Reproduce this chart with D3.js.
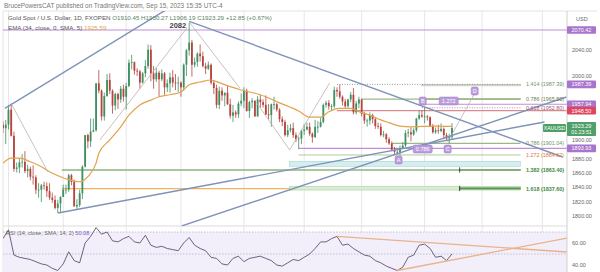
<!DOCTYPE html>
<html>
<head>
<meta charset="utf-8">
<script src="https://cdn.jsdelivr.net/npm/d3@7"></script>
<style>
  html, body { margin: 0; padding: 0; background: #fff; }
  svg { display: block; font-family: "Liberation Sans", Arial, sans-serif; }
</style>
</head>
<body>
<svg id="chart" width="600" height="272"></svg>
<script>
// daily bars, [open, high, low, close], Jan 30 .. Sep 15 2023
const janBars = [[1928,1933,1916,1923],[1923,1935,1900,1928]]
const febBars = [
  [1928,1957,1921,1950],[1950,1959,1911,1912],[1912,1918,1861,1865],[1865,1874,1860,1867],
  [1867,1880,1859,1874],[1874,1886,1867,1875],[1875,1890,1859,1862],[1862,1871,1853,1865],
  [1865,1868,1849,1854],[1854,1870,1843,1853],[1853,1856,1830,1836],[1836,1845,1825,1836],
  [1836,1844,1819,1842],[1842,1847,1836,1841],[1841,1846,1826,1834],[1834,1845,1822,1825],
  [1825,1832,1818,1822],[1822,1828,1809,1811],[1811,1822,1804,1817],[1817,1827,1804,1826]]
const marBars = [
  [1826,1843,1826,1836],[1836,1843,1830,1836],[1836,1858,1833,1856],[1856,1858,1842,1847],
  [1847,1850,1813,1813],[1813,1823,1809,1815],[1815,1836,1812,1831],[1831,1870,1823,1868],
  [1868,1913,1867,1913],[1913,1915,1894,1904],[1904,1937,1896,1918],[1918,1937,1917,1920],
  [1920,1989,1918,1989],[1989,2009,1974,1978],[1978,1980,1934,1940],[1940,1975,1934,1970],
  [1970,2003,1969,1994],[1994,2004,1973,1978],[1978,1980,1944,1956],[1956,1975,1949,1973],
  [1973,1975,1951,1965],[1965,1985,1960,1981],[1981,1987,1962,1969]]
const aprBars = [
  [1969,1990,1950,1985],[1985,2025,1983,2020],[2020,2032,2010,2021],[2021,2022,2002,2008],
  [2008,2012,2000,2007],[2007,2009,1981,1990],[1990,2006,1989,2004],[2004,2024,1998,2015],
  [2015,2048,2011,2040],[2040,2047,1992,2004],[2004,2015,1981,1995],[1995,2012,1991,2005],
  [2005,2008,1969,1995],[1995,2010,1992,2004],[2004,2006,1972,1983],[1983,1995,1976,1989],
  [1989,2005,1975,1998],[1998,2009,1983,1990],[1990,2003,1979,1989],[1989,1999,1976,1990]]
const mayBars = [
  [1990,1992,1969,1983],[1983,2019,1978,2017],[2017,2041,2000,2039],[2039,2082,2031,2051],
  [2051,2055,1999,2017],[2017,2028,2013,2021],[2021,2036,2014,2034],[2034,2048,2022,2030],
  [2030,2037,2013,2015],[2015,2020,2003,2011],[2011,2022,2009,2017],[2017,2019,1987,1990],
  [1990,1994,1973,1982],[1982,1987,1952,1957],[1957,1984,1951,1978],[1978,1983,1963,1971],
  [1971,1975,1955,1975],[1975,1985,1957,1958],[1958,1966,1937,1941],[1941,1957,1932,1946],
  [1946,1949,1938,1943],[1943,1962,1938,1959],[1959,1974,1955,1963]]
const junBars = [
  [1963,1983,1952,1978],[1978,1981,1947,1948],[1948,1963,1938,1961],[1961,1967,1952,1963],
  [1963,1964,1940,1940],[1940,1970,1940,1965],[1965,1972,1953,1961],[1961,1965,1953,1957],
  [1957,1971,1942,1943],[1943,1958,1936,1942],[1942,1959,1925,1958],[1958,1969,1950,1958],
  [1958,1960,1947,1950],[1950,1952,1932,1936],[1936,1940,1926,1932],[1932,1935,1911,1913],
  [1913,1928,1910,1920],[1920,1929,1917,1923],[1923,1931,1909,1913],[1913,1917,1903,1907],
  [1907,1911,1893,1908],[1908,1921,1900,1919]]
const julBars = [
  [1919,1929,1913,1921],[1921,1931,1920,1925],[1925,1931,1912,1915],[1915,1917,1902,1910],
  [1910,1935,1909,1925],[1925,1933,1916,1925],[1925,1938,1924,1932],[1932,1959,1930,1957],
  [1957,1963,1953,1960],[1960,1964,1950,1955],[1955,1958,1948,1955],[1955,1984,1952,1979],
  [1979,1983,1969,1977],[1977,1987,1966,1969],[1969,1971,1956,1962],[1962,1966,1952,1955],
  [1955,1966,1953,1965],[1965,1976,1961,1972],[1972,1982,1943,1946],[1946,1963,1943,1959],
  [1959,1969,1952,1965]]
const augBars = [
  [1965,1966,1940,1944],[1944,1947,1929,1934],[1934,1937,1925,1934],[1934,1946,1928,1942],
  [1942,1944,1930,1936],[1936,1939,1922,1926],[1926,1931,1922,1925],[1925,1930,1911,1913],
  [1913,1919,1910,1914],[1914,1916,1902,1907],[1907,1910,1899,1901],[1901,1904,1890,1892],
  [1892,1896,1885,1889],[1889,1894,1885,1889],[1889,1898,1884,1894],[1894,1903,1893,1898],
  [1898,1920,1896,1916],[1916,1922,1910,1917],[1917,1924,1904,1914],[1914,1923,1912,1920],
  [1920,1938,1917,1937],[1937,1949,1935,1942],[1942,1949,1938,1940]]
const sepBars = [
  [1940,1953,1930,1940],[1940,1942,1934,1939],[1939,1940,1925,1926],[1926,1929,1915,1917],
  [1917,1924,1915,1920],[1920,1928,1915,1919],[1919,1930,1917,1922],[1922,1924,1907,1913],
  [1913,1916,1905,1908],[1908,1915,1901,1910.45],[1910.45,1930.27,1906.19,1923.29]]

// EMA 34: bar index and value
const emaIdx = [0,3,6,10,14,17,21,24,28,31,34,35,39,43,46,50,54,57,61,65,68,72,76,79,83,87,94,101,108,112,116,119,123,127,130,134,138,141,145,149,157,164]
const emaVal = [1873,1880,1880,1875,1868,1861,1854,1850,1847,1854,1873,1887,1906,1925,1942,1957,1964,1969,1972,1976,1987,1991,1994,1990,1984,1979,1972,1960,1948,1939,1939,1947,1952,1952,1947,1942,1935,1931,1926,1925,1926,1925.6]

// RSI 14, every second bar
const rsiVal = [64,72,49,47,46,45,43,41,40,37,35,41,52,44,42,60,66,74,68,70,62,61,64,66,61,60,67,58,56,57,55,54,53,60,65,58,55,53,47,46,41,40,46,48,43,46,47,48,46,44,40,39,42,45,44,47,50,55,61,61,64,66,58,59,55,52,49,48,44,42,39,37,35,38,47,49,58,59,55,47,48,44,50.08]

// month gridlines (bar index of first trading day)
const monthIdx = [2, 22, 45, 65, 88, 110, 131, 154, 175, 197]
const priceTicks = [2040, 2000, 1900, 1880, 1860, 1840, 1820, 1800]
const rsiTicks = [60, 40]

// trend lines [bar, price] -> [bar, price]
const trendLines = [
  [[0.7, 1952], [70, 2130]],
  [[68, 2084], [204.4, 1881.7]],
  [[20.1, 1804], [197.8, 1932]],
  [[65.3, 1786.6], [205.8, 1968.6]]
]
const swingLines = [
  [[3.3, 1956.8], [16.4, 1860.7]],
  [[35.4, 1906], [67.2, 2073.6]],
  [[68.2, 2082], [86.5, 1982]],
  [[92.7, 1959.8], [104.7, 1891.7]],
  [[104.7, 1891.7], [119.3, 1989.5]],
  [[162.4, 1903], [173, 1979]]
]
const rsiLines = [
  [[122, 66], [206, 51.8]],
  [[144, 35], [206, 64.5]]
]

// horizontal drawings: price, from bar, to bar, kind
const hLines = [
  [2070.42, 0, 206, 'purple'],
  [1987.39, 122, 189, 'dots'],
  [1965.50, 131, 189, 'olive'],
  [1957.94, 153, 206, 'purple'],
  [1952.80, 153, 189, 'pinkdots'],
  [1948.50, 122, 206, 'red'],
  [1901.04, 142, 189, 'olive'],
  [1893.93, 108, 206, 'purple'],
  [1884.62, 108, 189, 'lightgreen'],
  [1863.40, 21.5, 189, 'green'],
  [1837.60, 21.5, 104.7, 'orange']
]
// filled bands: low price, high price, from bar, to bar, kind
const bands = [
  [1985.2, 1987.39, 153, 189, 'grey'],
  [1964.6, 1966.4, 153, 189, 'olive'],
  [1868.6, 1875.6, 104.7, 189, 'teal'],
  [1835.5, 1840.3, 104.7, 189, 'green'],
  [1862.6, 1864.4, 166.8, 189, 'dark'],
  [1836.8, 1838.6, 166.8, 189, 'dark']
]
const fibPrices = [1987.39, 1965.50, 1952.80, 1901.04, 1884.62, 1863.40, 1837.60]
const fibTexts = ['1.414 (1987.39)', '0.786 (1965.50)', '0.618 (1952.80)', '0.786 (1901.04)', '1.272 (1884.62)', '1.382 (1863.40)', '1.618 (1837.60)']

const pointNames = ['A', 'B', 'C', 'D', '0.786', '1.272']
const pointBars = [144.5, 153.3, 162.4, 172.3, 153.3, 162.8]
const pointPrices = [1877.5, 1962.7, 1893, 1977.5, 1893, 1962.7]

const tagPrices = [2070.42, 1987.39, 1957.94, 1948.50, 1893.93]
const tagKinds = ['purple', 'purple', 'purple', 'red', 'purple']
const lastPrice = 1923.29

const bars = [].concat(janBars, febBars, marBars, aprBars, mayBars, junBars, julBars, augBars, sepBars)

const svg = d3.select('#chart')
const W = 600, H = 272
const axisX = 567, topY = 11, paneY = 226

const x = d3.scaleLinear().domain([0, bars.length - 1]).range([3, 452])
const y = d3.scaleLog().domain([1800, 2000]).range([216, 76])
const yr = d3.scaleLinear().domain([40, 60]).range([265, 243])

const colors = {
  up: '#3f8f62', down: '#b4453d', trend: '#7f93b8', swing: '#bfaeb0', ema: '#e2a24c',
  purple: '#b57fd0', red: '#de5b6e', green: '#4f9f68', rsi: '#5d5170', rsiTrend: '#e9b38a'
}
const lineStyle = {
  purple: { stroke: '#bf8fd8', w: 1.2 },
  dots: { stroke: '#9a9a9a', w: 1, dash: '1,1.5' },
  olive: { stroke: '#9fb787', w: 1.2 },
  pinkdots: { stroke: '#c18a9c', w: 1, dash: '1,1.5' },
  red: { stroke: '#dc8a92', w: 1.2 },
  lightgreen: { stroke: '#a9cf9a', w: 1 },
  green: { stroke: '#8db37c', w: 1.4 },
  orange: { stroke: '#f2b35d', w: 1.3 }
}
const bandStyle = {
  grey: { fill: '#e4eadb', stroke: '#a8b0a0' },
  olive: { fill: '#a8c38c', stroke: '#93b079' },
  teal: { fill: '#d6efee', stroke: '#93d0cf' },
  green: { fill: '#d9edd3', stroke: '#9cc78e' },
  dark: { fill: '#5d9a55', stroke: '#4d8a45' }
}
const fibColors = ['#6f9160', '#6d7f4f', '#a05a6a', '#6f9160', '#e07a3a', '#3f8a3e', '#3f8a3e']

const defs = svg.append('defs')
defs.append('clipPath').attr('id', 'clipMain').append('rect')
  .attr('x', 3).attr('y', topY).attr('width', axisX - 3).attr('height', paneY - topY)
defs.append('clipPath').attr('id', 'clipRsi').append('rect')
  .attr('x', 3).attr('y', paneY).attr('width', axisX - 3).attr('height', H - paneY)

// frame + grid
svg.append('rect').attr('x', 0).attr('y', 0).attr('width', W).attr('height', H).attr('fill', '#fff')
svg.append('g').selectAll('line').data(monthIdx).join('line')
  .attr('x1', d => x(d)).attr('x2', d => x(d))
  .attr('y1', topY).attr('y2', H)
  .attr('stroke', '#e6e6e6').attr('stroke-width', 1)
svg.append('line').attr('x1', 3).attr('x2', W - 3).attr('y1', topY).attr('y2', topY).attr('stroke', '#e3e3e3')
svg.append('line').attr('x1', 3).attr('x2', 3).attr('y1', topY).attr('y2', H).attr('stroke', '#e3e3e3')
svg.append('line').attr('x1', 3).attr('x2', axisX).attr('y1', paneY).attr('y2', paneY).attr('stroke', '#dcdcdc')

// main pane
const main = svg.append('g').attr('clip-path', 'url(#clipMain)')

main.append('g').selectAll('rect').data(bands).join('rect')
  .attr('x', d => x(d[2])).attr('width', d => x(d[3]) - x(d[2]))
  .attr('y', d => y(d[1])).attr('height', d => Math.max(1, y(d[0]) - y(d[1])))
  .attr('fill', d => bandStyle[d[4]].fill).attr('stroke', d => bandStyle[d[4]].stroke).attr('stroke-width', 0.5)

main.append('g').selectAll('line').data(hLines).join('line')
  .attr('x1', d => x(d[1])).attr('x2', d => x(d[2]))
  .attr('y1', d => y(d[0])).attr('y2', d => y(d[0]))
  .attr('stroke', d => lineStyle[d[3]].stroke)
  .attr('stroke-width', d => lineStyle[d[3]].w)
  .attr('stroke-dasharray', d => lineStyle[d[3]].dash || null)

// little end ticks on the lower fib bars
main.append('g').selectAll('line').data(bands.filter(b => b[4] === 'dark')).join('line')
  .attr('x1', d => x(d[2])).attr('x2', d => x(d[2]))
  .attr('y1', d => y(d[1]) - 2).attr('y2', d => y(d[0]) + 2)
  .attr('stroke', '#222').attr('stroke-width', 0.8)

// candles
const candle = main.append('g').selectAll('g').data(bars).join('g')
candle.append('line')
  .attr('x1', (d, i) => x(i)).attr('x2', (d, i) => x(i))
  .attr('y1', d => y(d[1])).attr('y2', d => y(d[2]))
  .attr('stroke', d => d[3] >= d[0] ? colors.up : colors.down).attr('stroke-width', 0.8)
candle.append('rect')
  .attr('x', (d, i) => x(i) - 0.9).attr('width', 1.8)
  .attr('y', d => y(Math.max(d[0], d[3])))
  .attr('height', d => Math.max(0.8, Math.abs(y(d[0]) - y(d[3]))))
  .attr('fill', d => d[3] >= d[0] ? colors.up : colors.down)

// EMA
const emaPts = emaIdx.map((d, i) => [d, emaVal[i]])
main.append('path').datum(emaPts)
  .attr('fill', 'none').attr('stroke', colors.ema).attr('stroke-width', 1.2)
  .attr('d', d3.line().x(d => x(d[0])).y(d => y(d[1])).curve(d3.curveMonotoneX))

// swing and trend lines
const seg = d3.line().x(d => x(d[0])).y(d => y(d[1]))
main.append('g').selectAll('path').data(swingLines).join('path')
  .attr('d', seg).attr('fill', 'none').attr('stroke', colors.swing).attr('stroke-width', 0.8)
main.append('g').selectAll('path').data(trendLines).join('path')
  .attr('d', seg).attr('fill', 'none').attr('stroke', colors.trend).attr('stroke-width', 1.4)

// pattern point labels
const pts = main.append('g').selectAll('g').data(pointNames).join('g')
  .attr('transform', (d, i) => `translate(${x(pointBars[i])},${y(pointPrices[i])})`)
pts.append('rect')
  .attr('x', d => -(d.length * 3 + 4) / 2).attr('y', -4)
  .attr('width', d => d.length * 3 + 4).attr('height', 8).attr('rx', 1.5)
  .attr('fill', '#bb9ddc').attr('stroke', '#9a74c4').attr('stroke-width', 0.5)
pts.append('text').text(d => d)
  .attr('text-anchor', 'middle').attr('dy', 2).attr('font-size', 5.5).attr('fill', '#fff')

// fib labels
svg.append('g').selectAll('text').data(fibTexts).join('text')
  .attr('x', axisX - 3).attr('y', (d, i) => y(fibPrices[i]) + 2)
  .attr('text-anchor', 'end').attr('font-size', 5.4)
  .attr('font-weight', (d, i) => i >= 5 ? 'bold' : null)
  .attr('fill', (d, i) => fibColors[i])
  .text(d => d)

// RSI pane
const rsiG = svg.append('g').attr('clip-path', 'url(#clipRsi)')
rsiG.append('rect').attr('x', 3).attr('width', axisX - 3)
  .attr('y', yr(70)).attr('height', yr(30) - yr(70)).attr('fill', '#f3effa')
rsiG.append('g').selectAll('line').data([70, 50, 30]).join('line')
  .attr('x1', 3).attr('x2', axisX).attr('y1', d => yr(d)).attr('y2', d => yr(d))
  .attr('stroke', '#b8b0cc').attr('stroke-width', 0.8).attr('stroke-dasharray', '1.5,1.5')
rsiG.append('path').datum(rsiVal)
  .attr('fill', 'none').attr('stroke', colors.rsi).attr('stroke-width', 0.9)
  .attr('d', d3.line().x((d, i) => x(i * 2)).y(d => yr(d)))
rsiG.append('g').selectAll('path').data(rsiLines).join('path')
  .attr('d', d3.line().x(d => x(d[0])).y(d => yr(d[1])))
  .attr('fill', 'none').attr('stroke', colors.rsiTrend).attr('stroke-width', 1.3)

svg.append('text').attr('x', 6).attr('y', 235).attr('font-size', 5.6).attr('fill', '#666')
  .text('RSI (14, close, SMA, 14, 2) ')
  .append('tspan').attr('fill', '#7e57c2').text('50.08')

// price scale
svg.append('line').attr('x1', axisX).attr('x2', axisX).attr('y1', topY).attr('y2', H).attr('stroke', '#cfcfcf')
const yAxis = svg.append('g').attr('transform', `translate(${axisX},0)`)
  .call(d3.axisRight(y).tickValues(priceTicks).tickFormat(d3.format('.2f')).tickSize(0).tickPadding(5))
const rAxis = svg.append('g').attr('transform', `translate(${axisX},0)`)
  .call(d3.axisRight(yr).tickValues(rsiTicks).tickFormat(d3.format('.2f')).tickSize(0).tickPadding(5))
;[yAxis, rAxis].forEach(g => {
  g.select('.domain').remove()
  g.selectAll('text').attr('font-size', 5.5).attr('fill', '#666').attr('font-family', '"Liberation Sans", Arial, sans-serif')
})
// nudge tick labels that sit under a price tag
const tagYs = tagPrices.map(p => y(p)).concat([y(lastPrice)])
yAxis.selectAll('.tick text').attr('dy', d => {
  const ty = y(d)
  let shift = 0
  tagYs.forEach(t => {
    const gap = Math.abs(t - ty)
    if (gap < 9) shift = ty < t ? -(9 - gap) : (9 - gap)
  })
  return (1.9 + shift) + 'px'
})
svg.append('text').attr('x', 576).attr('y', 21).attr('font-size', 5.5).attr('fill', '#666').text('USD')

const tagFill = { purple: '#a874cc', red: '#e0455e' }
const tags = svg.append('g').selectAll('g').data(tagPrices).join('g')
  .attr('transform', d => `translate(${axisX},${y(d)})`)
tags.append('rect').attr('x', 0).attr('y', -3.8).attr('width', 29).attr('height', 7.6).attr('rx', 1)
  .attr('fill', (d, i) => tagFill[tagKinds[i]])
tags.append('text').attr('x', 14.5).attr('dy', 2).attr('text-anchor', 'middle')
  .attr('font-size', 5.5).attr('fill', '#fff').text(d => d.toFixed(2))

// last price
const lp = svg.append('g').attr('transform', `translate(${axisX},${y(lastPrice)})`)
lp.append('rect').attr('x', 0).attr('y', -6).attr('width', 29).attr('height', 14).attr('rx', 1).attr('fill', colors.green)
lp.append('text').attr('x', 14.5).attr('y', 0).attr('text-anchor', 'middle').attr('font-size', 5.5).attr('fill', '#fff').text(lastPrice.toFixed(2))
lp.append('text').attr('x', 14.5).attr('y', 6).attr('text-anchor', 'middle').attr('font-size', 5.3).attr('fill', '#fff').text('01:23:51')
lp.append('rect').attr('x', -24).attr('y', -4).attr('width', 23).attr('height', 8).attr('rx', 1).attr('fill', colors.green)
lp.append('text').attr('x', -12.5).attr('y', 2).attr('text-anchor', 'middle').attr('font-size', 5.2).attr('fill', '#fff').text('XAUUSD')

// header
svg.append('text').attr('x', 4).attr('y', 7.5).attr('font-size', 6.4).attr('fill', '#777')
  .text('BrucePowersCAT published on TradingView.com, Sep 15, 2023 15:35 UTC-4')
const h2 = svg.append('text').attr('x', 8).attr('y', 20).attr('font-size', 6.2).attr('fill', '#555')
h2.append('tspan').text('Gold Spot / U.S. Dollar, 1D, FXOPEN  ')
h2.append('tspan').attr('fill', '#5b7f66').text('O1910.45 H1930.27 L1906.19 C1923.29 +12.85 (+0.67%)')
const h3 = svg.append('text').attr('x', 8).attr('y', 30).attr('font-size', 6.2).attr('fill', '#555')
h3.append('tspan').text('EMA (34, close, 0, SMA, 5)  ')
h3.append('tspan').attr('fill', '#e2a24c').text('1925.59')
// peak label, just under the legend line
svg.append('text').attr('x', x(68) - 3).attr('y', y(2082) + 5.5).attr('text-anchor', 'end')
  .attr('font-size', 7.5).attr('font-weight', 'bold').attr('fill', '#444').text('2082')
</script>
</body>
</html>
